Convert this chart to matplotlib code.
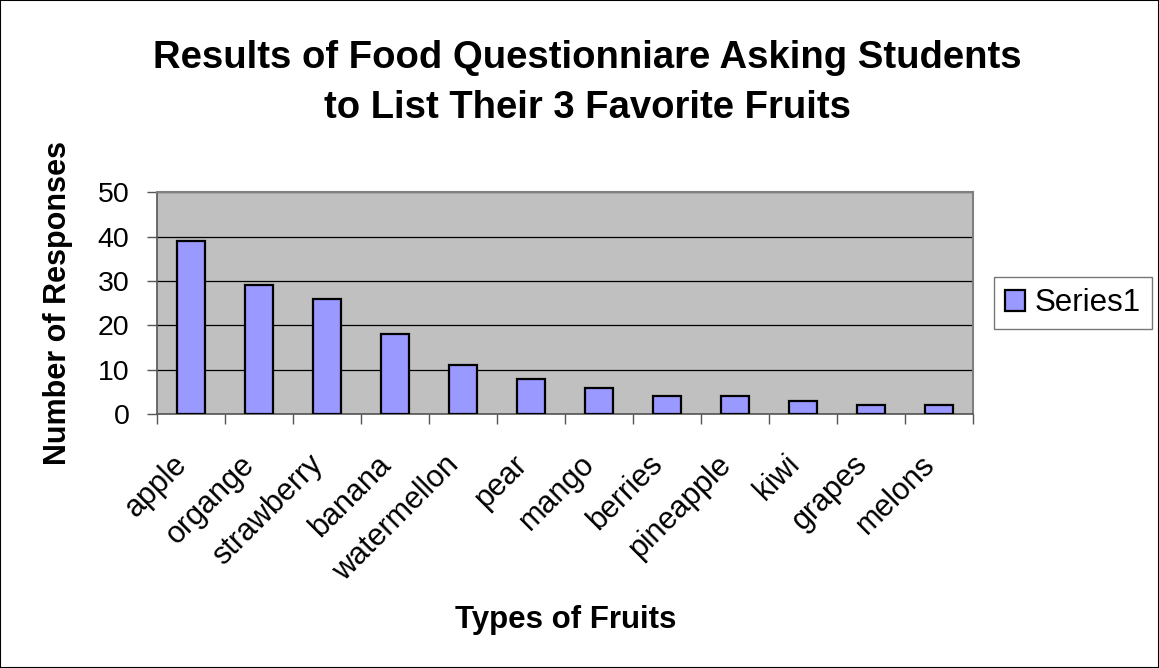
import matplotlib.pyplot as plt
import numpy as np
from matplotlib.patches import Rectangle
from matplotlib.transforms import ScaledTranslation

fruits = ['apple', 'organge', 'strawberry', 'banana', 'watermellon', 'pear',
          'mango', 'berries', 'pineapple', 'kiwi', 'grapes', 'melons']
responses = [39, 29, 26, 18, 11, 8, 6, 4, 4, 3, 2, 2]
y_ticks = [0, 10, 20, 30, 40, 50]

plt.rcParams['font.family'] = ['Liberation Sans', 'DejaVu Sans']

fig = plt.figure(figsize=(11.59, 6.68), dpi=100)
fig.patches.append(Rectangle((0, 0), 1, 1, transform=fig.transFigure, fill=False,
                             edgecolor='black', linewidth=1.5))
ax = fig.add_axes([0.1355, 0.380, 0.704, 0.3323])
ax.set_facecolor('#c0c0c0')

x = np.arange(len(fruits))
ax.bar(x, responses, width=0.42, color='#9999ff', edgecolor='black', linewidth=1.6,
       label='Series1', zorder=3)

ax.set_xlim(-0.5, len(fruits) - 0.5)
ax.set_ylim(0, 50)
ax.set_yticks(y_ticks)
ax.yaxis.grid(True, color='black', linewidth=0.9, zorder=1)
ax.set_axisbelow(True)

# category labels, rotated and anchored at the end of their baseline
ax.set_xticks(x)
ax.set_xticklabels(fruits, rotation=45, ha='right', va='baseline',
                   rotation_mode='anchor', fontsize=22)
ax.tick_params(axis='x', which='major', length=0, pad=37)
shift = ScaledTranslation(-2 / 72, 0, fig.dpi_scale_trans)
for lab in ax.get_xticklabels():
    lab.set_transform(lab.get_transform() + shift)
ax.set_xticks(np.arange(len(fruits) + 1) - 0.5, minor=True)
ax.tick_params(axis='x', which='minor', length=7, width=1, color='#555555')
ax.tick_params(axis='y', labelsize=20.5, length=7, width=1, color='#555555', pad=13)

for side in ['top', 'right']:
    ax.spines[side].set_color('#808080')
    ax.spines[side].set_linewidth(1.5)
for side in ['left', 'bottom']:
    ax.spines[side].set_color('#555555')
    ax.spines[side].set_linewidth(1.2)

fig.text(0.05, 0.5464, 'Number of Responses', fontsize=22, fontweight='bold',
         rotation=90, ha='center', va='center')
fig.text(0.488, 0.072, 'Types of Fruits', fontsize=22.5, fontweight='bold', ha='center', va='center')
fig.text(0.5066, 0.876, 'Results of Food Questionniare Asking Students\nto List Their 3 Favorite Fruits',
         fontsize=27.5, fontweight='bold', ha='center', va='center', linespacing=1.48)

leg = ax.legend(loc='center left', bbox_to_anchor=(1.026, 0.5), fontsize=22.5, frameon=True,
                fancybox=False, edgecolor='#555555', handlelength=0.65, handleheight=0.65,
                handletextpad=0.3, borderpad=0.35, borderaxespad=0)
leg.get_frame().set_linewidth(1)

fig.savefig('out.png', dpi=100)
